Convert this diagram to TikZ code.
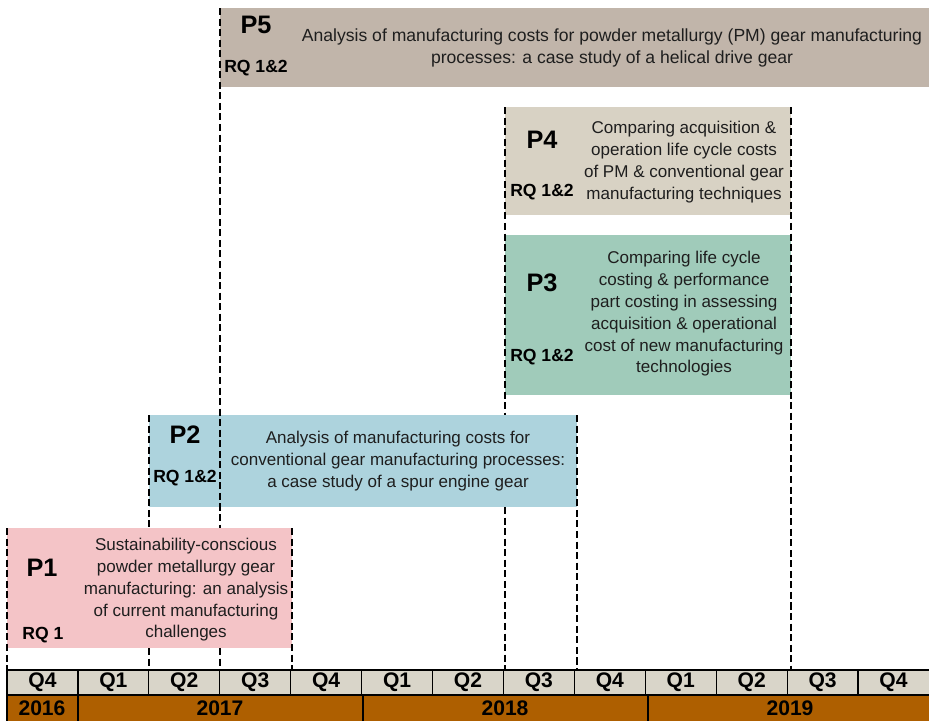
\documentclass[tikz,border=0pt]{standalone}
\usepackage{fontspec}
\setmainfont{Liberation Sans}
\definecolor{pone}{HTML}{F4C4C7}
\definecolor{ptwo}{HTML}{ADD3DD}
\definecolor{pthree}{HTML}{A0CBBA}
\definecolor{pfour}{HTML}{D8D2C4}
\definecolor{pfive}{HTML}{C1B5AA}
\definecolor{qrow}{HTML}{D9D5C9}
\definecolor{yrow}{HTML}{AE5F00}
\definecolor{ink}{HTML}{1E1E1E}
\begin{document}
\begin{tikzpicture}[x=0.02cm,y=-0.02cm,
  guide/.style={dash pattern=on 4pt off 2pt, line width=0.9pt},
  txt/.style={align=center, font=\fontsize{9.7}{12.4}\selectfont, text=ink},
  pnum/.style={font=\bfseries\fontsize{14.4}{16}\selectfont},
  rq/.style={font=\bfseries\fontsize{10}{12}\selectfont},
  qcell/.style={font=\bfseries\fontsize{12}{14}\selectfont}]
\useasboundingbox (0,0) rectangle (929,721);
% paper boxes
\fill [fill=pfive] (220,8) rectangle (929,87);
\fill [fill=pfour] (505,107) rectangle (791,215);
\fill [fill=pthree] (505,235) rectangle (791,395);
\fill [fill=ptwo] (149,415) rectangle (577,507);
\fill [fill=pone] (7,528) rectangle (292,648);
% dashed guides
\draw [guide] (7,528) -- (7,670);
\draw [guide] (149,415) -- (149,528);
\draw [guide] (149,648) -- (149,670);
\draw [guide] (220,8) -- (220,528);
\draw [guide] (220,648) -- (220,670);
\draw [guide] (292,528) -- (292,670);
\draw [guide] (505,107) -- (505,415);
\draw [guide] (505,507) -- (505,670);
\draw [guide] (577,415) -- (577,670);
\draw [guide] (791,107) -- (791,670);
% P5
\node (p5) at (256,25) [pnum] {P5};
\node (rq5) at (256,68) [rq] {RQ 1\&2};
\node (t5) at (612,48) [txt, font=\fontsize{10}{12.6}\selectfont] {Analysis of manufacturing costs for powder metallurgy (PM) gear manufacturing\\processes: a case study of a helical drive gear};
% P4
\node (p4) at (542,140) [pnum] {P4};
\node (rq4) at (542,192) [rq] {RQ 1\&2};
\node (t4) at (684,162) [txt] {Comparing acquisition \&\\operation life cycle costs\\of PM \& conventional gear\\manufacturing techniques};
% P3
\node (p3) at (542,283) [pnum] {P3};
\node (rq3) at (542,357) [rq] {RQ 1\&2};
\node (t3) at (684,314) [txt] {Comparing life cycle\\costing \& performance\\part costing in assessing\\acquisition \& operational\\cost of new manufacturing\\technologies};
% P2
\node (p2) at (185,435) [pnum] {P2};
\node (rq2) at (185,478) [rq] {RQ 1\&2};
\node (t2) at (398,461) [txt] {Analysis of manufacturing costs for\\conventional gear manufacturing processes:\\a case study of a spur engine gear};
% P1
\node (p1) at (42,568) [pnum] {P1};
\node (rq1) at (43,635) [rq] {RQ 1};
\node (t1) at (186,590) [txt] {Sustainability-conscious\\powder metallurgy gear\\manufacturing: an analysis\\of current manufacturing\\challenges};
% timeline
\fill [fill=qrow] (7,670) rectangle (929,695);
\fill [fill=yrow] (7,695) rectangle (929,721);
\foreach \q [count=\i from 0] in {Q4,Q1,Q2,Q3,Q4,Q1,Q2,Q3,Q4,Q1,Q2,Q3,Q4}
  \node (q\i) at ({7+70.92*(\i+0.5)},682.5) [qcell] {\q};
\foreach \i in {1,...,12}
  \draw [line width=0.7pt] ({7+70.92*\i},670) -- ({7+70.92*\i},695);
\draw [line width=0.7pt] (929,670) -- (7,670) -- (7,721);
\draw [line width=0.7pt] (7,695) -- (929,695);
\foreach \x in {78,363,648}
  \draw [line width=0.7pt] (\x,695) -- (\x,721);
\node (y2016) at (42,708) [qcell] {2016};
\node (y2017) at (220,708) [qcell] {2017};
\node (y2018) at (505,708) [qcell] {2018};
\node (y2019) at (790,708) [qcell] {2019};
\end{tikzpicture}
\end{document}
